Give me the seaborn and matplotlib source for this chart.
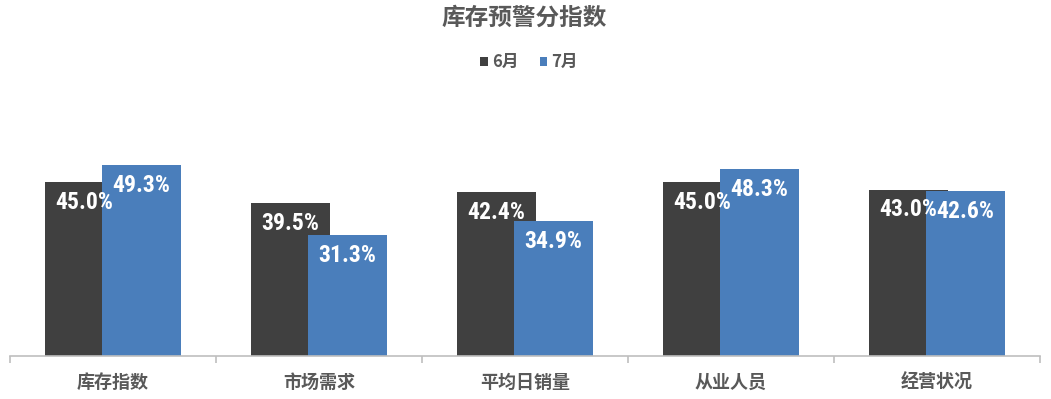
import matplotlib
matplotlib.use("Agg")
import matplotlib.pyplot as plt
import seaborn as sns
import pandas as pd
from matplotlib import font_manager

categories = ["库存指数", "市场需求", "平均日销量", "从业人员", "经营状况"]
series_names = ["6月", "7月"]
june = [45.0, 39.5, 42.4, 45.0, 43.0]
july = [49.3, 31.3, 34.9, 48.3, 42.6]
colors = ["#404040", "#4A7EBB"]

sns.set_theme(style="white")
plt.rcParams["font.family"] = ["Noto Sans CJK SC", "DejaVu Sans"]

# pick a condensed font for value labels if available
names = {f.name for f in font_manager.fontManager.ttflist}
label_family = None
for cand in ["Liberation Sans Narrow", "Roboto Condensed", "Open Sans Condensed",
             "DejaVu Sans Condensed"]:
    if cand in names:
        label_family = cand
        break
label_kw = {"family": [label_family]} if label_family else {"family": ["DejaVu Sans"], "fontstretch": "condensed"}

df = pd.DataFrame({
    "cat": categories * 2,
    "val": june + july,
    "series": [series_names[0]] * len(categories) + [series_names[1]] * len(categories),
})

fig = plt.figure(figsize=(10.51, 3.99), dpi=100)
ax = fig.add_axes([10 / 1051, 43 / 399, 1030 / 1051, 232 / 399])

sns.barplot(data=df, x="cat", y="val", hue="series", order=categories,
            hue_order=series_names, palette=colors, dodge=True, width=0.553,
            saturation=1, legend=True, ax=ax, linewidth=0)

# widen bars so they overlap slightly (Excel-style overlap)
bar_w = 0.383
for p in ax.patches:
    if p.get_height() == 0:
        continue
    cx = p.get_x() + p.get_width() / 2
    p.set_width(bar_w)
    p.set_x(cx - bar_w / 2)

# value labels inside the top of each bar
for p in ax.patches:
    h = p.get_height()
    if h == 0:
        continue
    ax.annotate(f"{h:.1f}%", (p.get_x() + p.get_width() / 2, h),
                xytext=(0, -14.5), textcoords="offset points",
                ha="center", va="center", color="white", fontsize=17,
                fontweight="bold", zorder=5, **label_kw)

ax.set_xlim(-0.5, len(categories) - 0.5)
ax.set_ylim(0, 60)
ax.set_xlabel("")
ax.set_ylabel("")
ax.set_yticks([])
for s in ["top", "right", "left"]:
    ax.spines[s].set_visible(False)
ax.spines["bottom"].set_color("#BFBFBF")
ax.spines["bottom"].set_linewidth(1.2)

ax.set_xticks(range(len(categories)))
ax.set_xticklabels(categories, fontsize=13, fontweight="bold", color="#595959")
ax.tick_params(axis="x", which="major", length=0, pad=12)
ax.set_xticks([i - 0.5 for i in range(len(categories) + 1)], minor=True)
ax.tick_params(axis="x", which="minor", length=5, width=1.2, color="#BFBFBF",
               direction="out", bottom=True)

# legend
handles, labels = ax.get_legend_handles_labels()
ax.get_legend().remove()
leg = fig.legend(handles, labels, loc="center", bbox_to_anchor=(529 / 1051, 1 - 62 / 399),
                 ncol=2, frameon=False, handlelength=0.45, handleheight=0.45,
                 handletextpad=0.25, columnspacing=1.3,
                 prop={"size": 12, "weight": "bold"})
for t in leg.get_texts():
    t.set_color("#595959")

fig.text(524 / 1051, 1 - 18 / 399, "库存预警分指数", ha="center", va="center",
         fontsize=17, fontweight="bold", color="#595959")

fig.savefig("out.png", dpi=100, facecolor="white")
